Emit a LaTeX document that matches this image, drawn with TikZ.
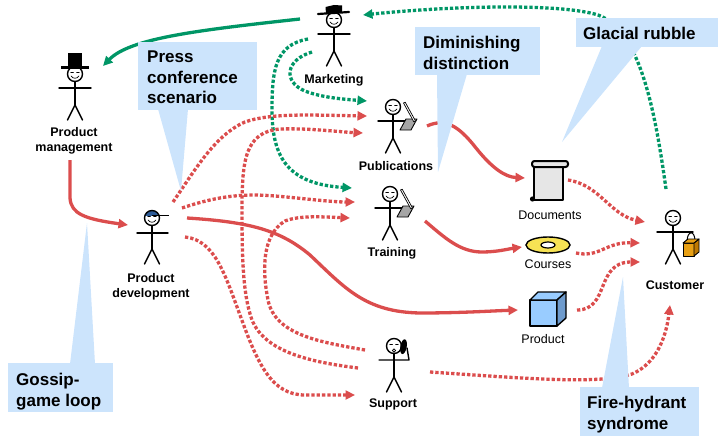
\documentclass[tikz,border=0pt]{standalone}
\usepackage{fontspec}
\setmainfont{Liberation Sans}
\usetikzlibrary{arrows.meta}

\definecolor{flowred}{RGB}{219,77,77}
\definecolor{flowgreen}{RGB}{0,150,102}
\definecolor{notefill}{RGB}{204,228,252}
\definecolor{capblue}{RGB}{44,90,150}
\definecolor{discyellow}{RGB}{246,226,84}
\definecolor{cubeblue}{RGB}{153,204,255}
\definecolor{cubeside}{RGB}{110,155,205}
\definecolor{bagorange}{RGB}{232,160,20}
\definecolor{bagside}{RGB}{190,120,0}
\definecolor{padgray}{RGB}{165,165,165}
\definecolor{scrollgray}{RGB}{230,230,230}

\tikzset{
  figline/.style={line width=1.4pt, line cap=round, line join=round},
  faceline/.style={line width=0.7pt, line cap=round},
  flowtip/.style={-{Triangle[length=9.5pt,width=9pt]}},
  solidred/.style={draw=flowred, line width=3.3pt, flowtip},
  dotred/.style={draw=flowred, line width=3.3pt, dash pattern=on 3.3pt off 2pt, flowtip},
  solidgreen/.style={draw=flowgreen, line width=3.3pt, flowtip},
  dotgreen/.style={draw=flowgreen, line width=3.3pt, dash pattern=on 3.3pt off 2pt, flowtip},
  who/.style={font=\fontsize{12.5}{15}\selectfont\bfseries, align=center, inner sep=0pt},
  what/.style={font=\fontsize{12.5}{15}\selectfont, inner sep=0pt, text height=9.2pt, text depth=2.6pt},
  notetext/.style={font=\fontsize{17}{20.5}\selectfont\bfseries, align=left, inner sep=0pt, anchor=north west},
  notebg/.style={fill=notefill},
  stick/.pic={
    \draw[figline] (0,0) circle[radius=7.5];
    \draw[figline] (0,7.5) -- (0,31);
    \draw[figline] (-7.5,46) -- (0,31) -- (7.5,46);
  },
  smile/.pic={
    \draw[faceline] (-4.2,-1.8) -- (-1.6,-1.8) (1.6,-1.8) -- (4.2,-1.8);
    \draw[faceline] (-4,2) .. controls (-2,5) and (2,5) .. (4,2);
  },
  scribe/.pic={
    \draw[figline] (-15,14) -- (13,14);
    \filldraw[fill=padgray, line width=0.9pt, line join=round] (7,23) -- (18,23) -- (24,12) -- (13,12) -- cycle;
    \filldraw[fill=white, line width=0.7pt, line join=round] (10.5,-4) -- (12.2,-4.8) -- (22.5,14) -- (20.8,14.8) -- cycle;
  },
}

\begin{document}
\begin{tikzpicture}[x=1pt,y=-1pt]
\useasboundingbox (0,0) rectangle (726,436);

% ---------- connector end points ----------
\coordinate (mkW)   at (300,19);
\coordinate (pmE)   at (103,66);
\coordinate (cuN)   at (666,189);
\coordinate (mkE)   at (363,15);
\coordinate (mkS1)  at (312,52);
\coordinate (mkS2)  at (308,39);
\coordinate (pubW1) at (367,101);
\coordinate (pubW2) at (367,116);
\coordinate (pubW3) at (363,133);
\coordinate (pubE)  at (427,126);
\coordinate (trW1)  at (352,188);
\coordinate (trW2)  at (355,202);
\coordinate (trW3)  at (350,218);
\coordinate (trE)   at (425,221);
\coordinate (pmS)   at (70,160);
\coordinate (pdW)   at (128,225);
\coordinate (pdE1)  at (173,202);
\coordinate (pdE2)  at (182,208);
\coordinate (pdE3)  at (187,218);
\coordinate (pdE4)  at (185,237);
\coordinate (spW1)  at (365,350);
\coordinate (spW2)  at (358,368);
\coordinate (spW3)  at (355,395);
\coordinate (spE)   at (430,372);
\coordinate (docW)  at (525,178);
\coordinate (docE)  at (568,180);
\coordinate (crsW)  at (522,247);
\coordinate (crsE)  at (576,253);
\coordinate (prdW)  at (518,310);
\coordinate (prdE)  at (577,310);
\coordinate (cuW1)  at (645,222);
\coordinate (cuW2)  at (640,243);
\coordinate (cuW3)  at (640,262);
\coordinate (cuS)   at (670,305);

% ---------- connectors ----------
% marketing feeds product management, publications and training
\draw[solidgreen] (mkW) .. controls (200,30) and (130,38) .. (pmE);
\draw[dotgreen] (mkS1) .. controls (285,60) and (283,82) .. (305,91) .. controls (320,97) and (340,99) .. (pubW1);
\draw[dotgreen] (mkS2) .. controls (275,45) and (272,70) .. (272,110) .. controls (272,160) and (290,184) .. (trW1);
% customer talks back to marketing
\draw[dotgreen] (cuN) .. controls (655,110) and (640,30) .. (598,15) .. controls (560,3) and (450,6) .. (mkE);

% product management to product development
\draw[solidred] (pmS) -- (70,198) .. controls (71,214) and (85,219) .. (pdW);
% product development outwards
\draw[dotred] (pdE1) .. controls (195,170) and (215,135) .. (245,122) .. controls (270,113) and (310,115) .. (pubW2);
\draw[dotred] (pdE2) .. controls (215,197) and (240,193) .. (275,196) .. controls (300,198) and (330,202) .. (trW2);
\draw[dotred] (pdE4) .. controls (215,240) and (225,275) .. (240,315) .. controls (258,365) and (272,395) .. (305,395) -- (spW3);
\draw[solidred] (pdE3) .. controls (250,222) and (280,230) .. (310,255) .. controls (345,288) and (365,312) .. (420,313) .. controls (460,313) and (490,311) .. (prdW);
% support feeds publications and training
\draw[dotred] (spW2) .. controls (310,362) and (265,352) .. (252,320) .. controls (243,295) and (242,260) .. (242,210) .. controls (242,160) and (245,132) .. (280,129) .. controls (310,128) and (340,132) .. (pubW3);
\draw[dotred] (spW1) .. controls (320,342) and (275,335) .. (268,300) .. controls (262,270) and (262,235) .. (285,221) .. controls (300,215) and (325,217) .. (trW3);
% publications and training produce deliverables
\draw[solidred] (pubE) .. controls (445,118) and (458,125) .. (476,148) .. controls (492,168) and (505,177) .. (docW);
\draw[solidred] (trE) .. controls (445,238) and (460,252) .. (482,252) .. controls (497,252) and (508,249) .. (crsW);
% deliverables reach the customer
\draw[dotred] (docE) .. controls (600,185) and (610,215) .. (cuW1);
\draw[dotred] (crsE) .. controls (600,258) and (605,242) .. (cuW2);
\draw[dotred] (prdE) .. controls (610,310) and (595,262) .. (cuW3);
\draw[dotred] (spE) .. controls (520,378) and (600,385) .. (632,374) .. controls (660,362) and (667,330) .. (cuS);

% ---------- people ----------
% Product management
\begin{scope}[shift={(75,74)}]
  \pic {stick}; \pic {smile};
  \draw[figline] (-16,14) -- (16,14);
  \fill (-7,-21) rectangle (7,-6);
  \draw[line width=2.2pt] (-14,-6.5) -- (14,-6.5);
\end{scope}
\node[who] (lblpm) at (74,141) {Product\\management};

% Marketing
\begin{scope}[shift={(334,20)}]
  \pic {stick}; \pic {smile};
  \draw[figline] (-16,14) -- (16,14);
  \fill (-8,-6.5) -- (-8.5,-13) -- (0,-15) -- (8,-14.5) -- (8,-7.5) -- cycle;
  \draw[line width=2.2pt, line cap=round] (-16,-6) -- (15,-8);
\end{scope}
\node[who, text height=9.2pt, text depth=2.6pt] (lblmkt) at (334,80) {Marketing};

% Publications
\begin{scope}[shift={(393,107)}]
  \pic {stick}; \pic {smile}; \pic {scribe};
\end{scope}
\node[who, text height=9.2pt, text depth=2.6pt] (lblpub) at (396,167) {Publications};

% Training
\begin{scope}[shift={(390,194)}]
  \pic {stick}; \pic {smile}; \pic {scribe};
\end{scope}
\node[who, text height=9.2pt, text depth=2.6pt] (lbltr) at (392,253) {Training};

% Support (on the phone)
\begin{scope}[shift={(394,346)}]
  \pic {stick};
  \draw[faceline] (-4.2,-1.8) -- (-1.6,-1.8) (1.6,-1.8) -- (4.2,-1.8);
  \draw[faceline] (0,4.5) circle[radius=1.6];
  \draw[figline] (-15,14) -- (15,14) -- (13,2);
  \fill[rotate=-10] (9.5,-1) ellipse [x radius=3.2, y radius=7.5];
\end{scope}
\node[who, text height=9.2pt, text depth=2.6pt] (lblsp) at (393,404) {Support};

% Product development (cap)
\begin{scope}[shift={(152,218)}]
  \begin{scope}
    \clip (-9,-10) rectangle (9,-2.5);
    \fill[capblue] (0,0) circle[radius=7.5];
  \end{scope}
  \pic {stick}; \pic {smile};
  \draw[figline] (-15,15) -- (16,15);
  \draw[line width=1.2pt] (0,-2.5) -- (17,-2.5);
\end{scope}
\node[who] (lblpd) at (151,286.5) {Product\\development};

% Customer (with shopping bag)
\begin{scope}[shift={(673,218)}]
  \pic {stick}; \pic {smile};
  \draw[figline] (-16,14) -- (20,14);
  \draw[line width=1pt] (14,24) .. controls (14,12) and (22,12) .. (22,23);
  \filldraw[fill=bagorange, line width=0.9pt, line join=round] (10,25) rectangle (21,38);
  \filldraw[fill=bagside, line width=0.9pt, line join=round] (21,25) -- (26,21) -- (26,34) -- (21,38) -- cycle;
  \filldraw[fill=bagorange, line width=0.9pt, line join=round] (10,25) -- (15,21) -- (26,21) -- (21,25) -- cycle;
\end{scope}
\node[who, text height=9.2pt, text depth=2.6pt] (lblcu) at (675,286) {Customer};

% ---------- deliverables ----------
% Documents (scroll)
\filldraw[fill=scrollgray, line width=2pt, line join=round] (534,165) rectangle (563,200);
\filldraw[fill=scrollgray, line width=2pt, rounded corners=2.5pt] (532,161) rectangle (568,167);
\fill (532.5,199) circle[radius=2.6];
\node[what] (lbldoc) at (550,216) {Documents};

% Courses (disc)
\filldraw[fill=discyellow, line width=1.4pt] (548,245) ellipse [x radius=22, y radius=8];
\filldraw[fill=white, line width=1.2pt] (548,245) ellipse [x radius=7, y radius=3];
\node[what] (lblcrs) at (548,265) {Courses};

% Product (cube)
\filldraw[fill=cubeblue, line width=1.4pt, line join=round] (530,300) rectangle (557,326);
\filldraw[fill=cubeblue, line width=1.4pt, line join=round] (530,300) -- (538,292) -- (566,292) -- (557,300) -- cycle;
\filldraw[fill=cubeside, line width=1.4pt, line join=round] (557,300) -- (566,292) -- (566,318) -- (557,326) -- cycle;
\node[what] (lblprd) at (543,340) {Product};

% ---------- callouts ----------
\fill[notebg] (138,42) rectangle (257,110);
\fill[notebg] (158,109) -- (188,109) -- (181,191) -- cycle;
\node[notetext] (notepress) at (147,51) {Press\\conference\\scenario};

\fill[notebg] (415,27) rectangle (540,75);
\fill[notebg] (437,74) -- (467,74) -- (438,172) -- cycle;
\node[notetext] (notedim) at (423,36) {Diminishing\\distinction};

\fill[notebg] (576,18) rectangle (718,47);
\fill[notebg] (602,46) -- (642,46) -- (562,142) -- cycle;
\node[notetext] (noteglac) at (583,27) {Glacial rubble};

\fill[notebg] (8,363) rectangle (113,412);
\fill[notebg] (70,364) -- (95,364) -- (87,223) -- cycle;
\node[notetext] (notegossip) at (16,373) {Gossip-\\game loop};

\fill[notebg] (580,387) rectangle (699,436);
\fill[notebg] (602,388) -- (629,388) -- (623,277) -- cycle;
\node[notetext] (notefire) at (587,396) {Fire-hydrant\\syndrome};

\end{tikzpicture}
\end{document}
